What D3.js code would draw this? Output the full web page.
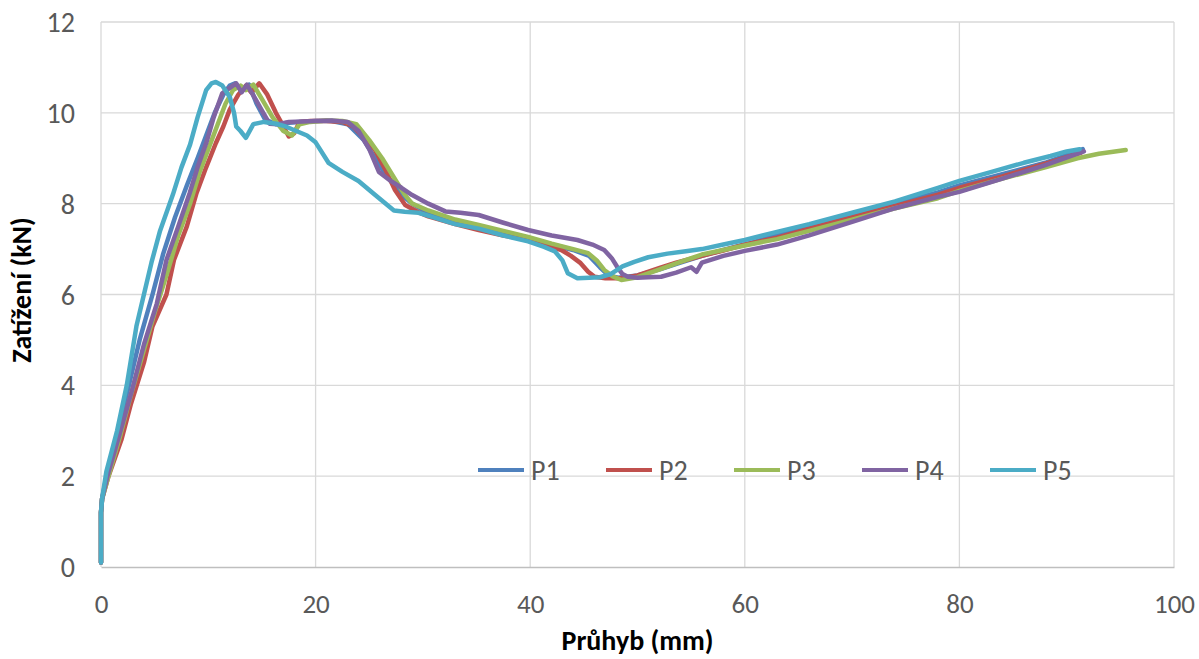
<!DOCTYPE html>
<html>
<head>
<meta charset="utf-8">
<script src="https://cdn.jsdelivr.net/npm/d3@7"></script>
<style>
body { margin: 0; background: #fff; }
text { font-family: Calibri, Carlito, "Liberation Sans", "DejaVu Sans", sans-serif; }
</style>
</head>
<body>
<div id="chart"></div>
<script>
var seriesNames = ['P1', 'P2', 'P3', 'P4', 'P5'];
var colors = ['#4f81bd', '#c0504d', '#9bbb59', '#8064a2', '#4bacc6'];
var xTicks = [0, 20, 40, 60, 80, 100];
var yTicks = [0, 2, 4, 6, 8, 10, 12];

var p1x = [0, 0, 0.1, 0.6, 1.6, 2.6, 3.6, 4.8, 5.8, 6.9, 8.0, 9.0, 9.8, 10.6, 11.4, 12.0, 12.5, 13.2, 13.8, 14.5, 15.3, 16.3, 17.5, 18.5, 20.0, 21.5, 23.0, 24.5, 25.8, 27.0, 28.0, 29.0, 30.5, 33.0, 35.2, 37.5, 39.8, 42.0, 44.0, 45.5, 46.5, 47.3, 48.2, 50.0, 52.0, 54.0, 56.0, 58.0, 60.0, 63.0, 66.0, 70.0, 74.0, 78.0, 80.0, 84.0, 88.0, 91.5];
var p1y = [0.1, 1.2, 1.5, 2.1, 3.0, 4.0, 5.0, 6.0, 6.9, 7.7, 8.4, 9.0, 9.5, 10.0, 10.4, 10.6, 10.65, 10.5, 10.62, 10.2, 9.85, 9.75, 9.78, 9.8, 9.82, 9.82, 9.75, 9.4, 8.9, 8.5, 8.2, 8.0, 7.8, 7.6, 7.48, 7.35, 7.22, 7.1, 6.98, 6.85, 6.6, 6.42, 6.37, 6.42, 6.55, 6.7, 6.85, 6.98, 7.1, 7.3, 7.5, 7.75, 8.0, 8.25, 8.4, 8.65, 8.9, 9.2];

var p2x = [0, 0, 0.1, 0.7, 1.9, 2.8, 4.0, 4.8, 6.1, 6.8, 8.0, 8.9, 9.8, 10.7, 11.4, 12.0, 12.8, 13.5, 14.0, 14.75, 15.5, 16.3, 17.0, 17.5, 18.0, 18.5, 19.5, 21.0, 22.5, 23.5, 24.5, 25.5, 26.5, 27.4, 28.35, 29.5, 30.5, 33.0, 35.2, 37.5, 39.8, 41.5, 42.9, 43.8, 44.7, 45.4, 46.0, 47.0, 48.5, 50.0, 52.0, 53.6, 56.0, 58.0, 60.0, 63.0, 66.0, 70.0, 74.0, 78.0, 80.0, 84.0, 88.0, 91.3];
var p2y = [0.1, 1.2, 1.5, 2.0, 2.8, 3.6, 4.5, 5.3, 6.0, 6.76, 7.5, 8.23, 8.8, 9.33, 9.7, 10.07, 10.4, 10.6, 10.45, 10.65, 10.4, 10.0, 9.7, 9.48, 9.55, 9.8, 9.82, 9.82, 9.8, 9.7, 9.45, 9.2, 8.75, 8.3, 7.97, 7.82, 7.72, 7.55, 7.42, 7.3, 7.2, 7.08, 6.98, 6.85, 6.69, 6.5, 6.39, 6.36, 6.36, 6.42, 6.58, 6.7, 6.85, 6.97, 7.1, 7.25, 7.45, 7.7, 7.95, 8.2, 8.35, 8.6, 8.88, 9.12];

var p3x = [0, 0, 0.1, 0.7, 1.8, 2.8, 3.9, 5.0, 6.2, 7.2, 8.3, 9.2, 10.0, 10.8, 11.6, 12.3, 13.0, 13.5, 14.2, 15.0, 16.0, 17.0, 17.8, 18.5, 19.5, 21.0, 22.5, 23.8, 25.0, 26.2, 27.5, 28.3, 29.0, 30.5, 33.0, 35.2, 37.5, 39.8, 42.0, 44.0, 45.4, 46.2, 46.9, 47.7, 48.5, 50.0, 52.0, 54.0, 56.0, 58.0, 60.0, 63.0, 66.0, 70.0, 74.0, 78.0, 80.0, 84.0, 88.0, 91.0, 93.0, 95.5];
var p3y = [0.1, 1.2, 1.5, 2.0, 2.9, 3.8, 4.7, 5.6, 6.5, 7.3, 8.0, 8.7, 9.2, 9.7, 10.2, 10.5, 10.6, 10.5, 10.62, 10.3, 9.9, 9.6, 9.5, 9.75, 9.8, 9.83, 9.82, 9.75, 9.4, 9.0, 8.5, 8.2, 8.0, 7.85, 7.65, 7.53, 7.4, 7.27, 7.12, 7.0, 6.91, 6.75, 6.54, 6.4, 6.32, 6.38, 6.55, 6.72, 6.88, 6.98, 7.08, 7.22, 7.4, 7.65, 7.9, 8.12, 8.28, 8.55, 8.8, 9.0, 9.1, 9.18];

var p4x = [0, 0, 0.1, 0.6, 1.7, 2.9, 4.0, 5.2, 6.1, 7.2, 8.26, 9.0, 9.8, 10.5, 11.3, 12.0, 12.6, 13.1, 13.6, 14.4, 15.0, 15.7, 16.5, 17.5, 18.8, 20.0, 21.5, 23.0, 24.0, 25.0, 25.9, 27.0, 28.0, 29.0, 30.5, 32.1, 33.5, 35.2, 37.5, 39.8, 42.0, 44.4, 45.8, 46.9, 47.6, 48.1, 48.6, 49.1, 50.0, 51.0, 52.2, 53.6, 55.0, 55.5, 56.0, 58.0, 60.0, 63.0, 66.0, 70.0, 74.0, 78.0, 80.0, 84.0, 88.0, 91.6];
var p4y = [0.1, 1.2, 1.5, 2.0, 2.9, 3.9, 4.9, 5.8, 6.76, 7.5, 8.23, 8.8, 9.33, 9.9, 10.43, 10.55, 10.65, 10.45, 10.62, 10.3, 10.05, 9.76, 9.75, 9.8, 9.81, 9.82, 9.83, 9.8, 9.6, 9.2, 8.7, 8.5, 8.35, 8.19, 8.0, 7.83, 7.8, 7.75, 7.58, 7.42, 7.3, 7.2, 7.1, 6.98, 6.8, 6.61, 6.45, 6.39, 6.37, 6.38, 6.39, 6.48, 6.6, 6.5, 6.7, 6.85, 6.96, 7.1, 7.3, 7.6, 7.9, 8.15, 8.26, 8.55, 8.85, 9.15];

var p5x = [0, 0, 0.1, 0.5, 1.5, 2.4, 3.3, 4.7, 5.5, 6.7, 7.5, 8.3, 9.0, 9.8, 10.3, 10.7, 11.3, 12.0, 12.4, 12.6, 13.0, 13.5, 14.2, 15.2, 16.3, 17.2, 18.2, 19.2, 20.0, 21.2, 22.5, 24.0, 25.5, 27.3, 28.3, 29.6, 31.0, 33.0, 35.2, 37.5, 39.8, 41.3, 42.3, 43.0, 43.5, 44.4, 45.5, 46.5, 47.5, 48.6, 49.7, 51.0, 52.8, 54.5, 56.0, 58.0, 60.0, 63.0, 66.0, 70.0, 74.0, 78.0, 80.0, 83.0, 86.0, 88.5, 90.0, 91.2];
var p5y = [0.1, 1.2, 1.5, 2.1, 3.0, 4.0, 5.3, 6.7, 7.4, 8.2, 8.8, 9.3, 9.9, 10.5, 10.65, 10.68, 10.6, 10.35, 10.0, 9.7, 9.6, 9.45, 9.75, 9.8, 9.76, 9.7, 9.6, 9.5, 9.35, 8.9, 8.7, 8.5, 8.2, 7.85, 7.82, 7.8, 7.7, 7.55, 7.45, 7.3, 7.17, 7.05, 6.95, 6.75, 6.47, 6.36, 6.37, 6.38, 6.45, 6.62, 6.72, 6.82, 6.9, 6.95, 7.0, 7.1, 7.2, 7.38, 7.55, 7.8, 8.05, 8.35, 8.5, 8.7, 8.9, 9.05, 9.15, 9.2];

var xs = [p1x, p2x, p3x, p4x, p5x];
var ys = [p1y, p2y, p3y, p4y, p5y];

var W = 1199, H = 659;
var mLeft = 101, mRight = 1174, mTop = 22, mBottom = 567;

var svg = d3.select('#chart').append('svg')
	.attr('width', W)
	.attr('height', H);

var x = d3.scaleLinear().domain([0, 100]).range([mLeft, mRight]);
var y = d3.scaleLinear().domain([0, 12]).range([mBottom, mTop]);

// gridlines
svg.append('g')
	.selectAll('line')
	.data(yTicks.filter(function (d) { return d > 0; }))
	.enter().append('line')
	.attr('x1', mLeft).attr('x2', mRight)
	.attr('y1', function (d) { return y(d); })
	.attr('y2', function (d) { return y(d); })
	.attr('stroke', '#d9d9d9').attr('stroke-width', 1.3);
svg.append('g')
	.selectAll('line')
	.data(xTicks)
	.enter().append('line')
	.attr('x1', function (d) { return x(d); })
	.attr('x2', function (d) { return x(d); })
	.attr('y1', mTop).attr('y2', mBottom)
	.attr('stroke', '#d9d9d9').attr('stroke-width', 1.3);

// x axis
var xAxis = svg.append('g')
	.attr('transform', 'translate(0,' + mBottom + ')')
	.call(d3.axisBottom(x).tickValues(xTicks).tickSize(0).tickPadding(0));
xAxis.select('.domain').attr('stroke', '#bfbfbf').attr('stroke-width', 1.5);
xAxis.selectAll('text').attr('font-size', 27).attr('fill', '#595959')
	.attr('dy', null).attr('y', 46);

// y axis
var yAxis = svg.append('g')
	.attr('transform', 'translate(' + mLeft + ',0)')
	.call(d3.axisLeft(y).tickValues(yTicks).tickSize(0).tickPadding(26));
yAxis.select('.domain').remove();
yAxis.selectAll('text').attr('font-size', 28).attr('fill', '#595959').attr('dy', '0.34em');

// axis titles
svg.append('text')
	.attr('x', (mLeft + mRight) / 2)
	.attr('y', 650)
	.attr('text-anchor', 'middle')
	.attr('font-size', 28)
	.attr('font-weight', 'bold')
	.attr('fill', '#000')
	.text('Průhyb (mm)');
svg.append('text')
	.attr('transform', 'translate(31,290) rotate(-90)')
	.attr('text-anchor', 'middle')
	.attr('font-size', 28)
	.attr('font-weight', 'bold')
	.attr('fill', '#000')
	.text('Zatížení (kN)');

// series
var line = d3.line()
	.x(function (d) { return x(d[0]); })
	.y(function (d) { return y(d[1]); });

seriesNames.forEach(function (name, i) {
	var pts = xs[i].map(function (v, j) { return [v, ys[i][j]]; });
	svg.append('path')
		.datum(pts)
		.attr('d', line)
		.attr('fill', 'none')
		.attr('stroke', colors[i])
		.attr('stroke-width', 4.5)
		.attr('stroke-linejoin', 'round')
		.attr('stroke-linecap', 'round');
});

// legend
var legend = svg.append('g').attr('transform', 'translate(478,470)');
var item = legend.selectAll('g')
	.data(seriesNames)
	.enter().append('g')
	.attr('transform', function (d, i) { return 'translate(' + (i * 128) + ',0)'; });
item.append('line')
	.attr('x1', 0).attr('x2', 46)
	.attr('y1', 0).attr('y2', 0)
	.attr('stroke', function (d, i) { return colors[i]; })
	.attr('stroke-width', 4);
item.append('text')
	.attr('x', 53)
	.attr('y', 10)
	.attr('font-size', 28)
	.attr('fill', '#595959')
	.text(function (d) { return d; });
</script>
</body>
</html>
